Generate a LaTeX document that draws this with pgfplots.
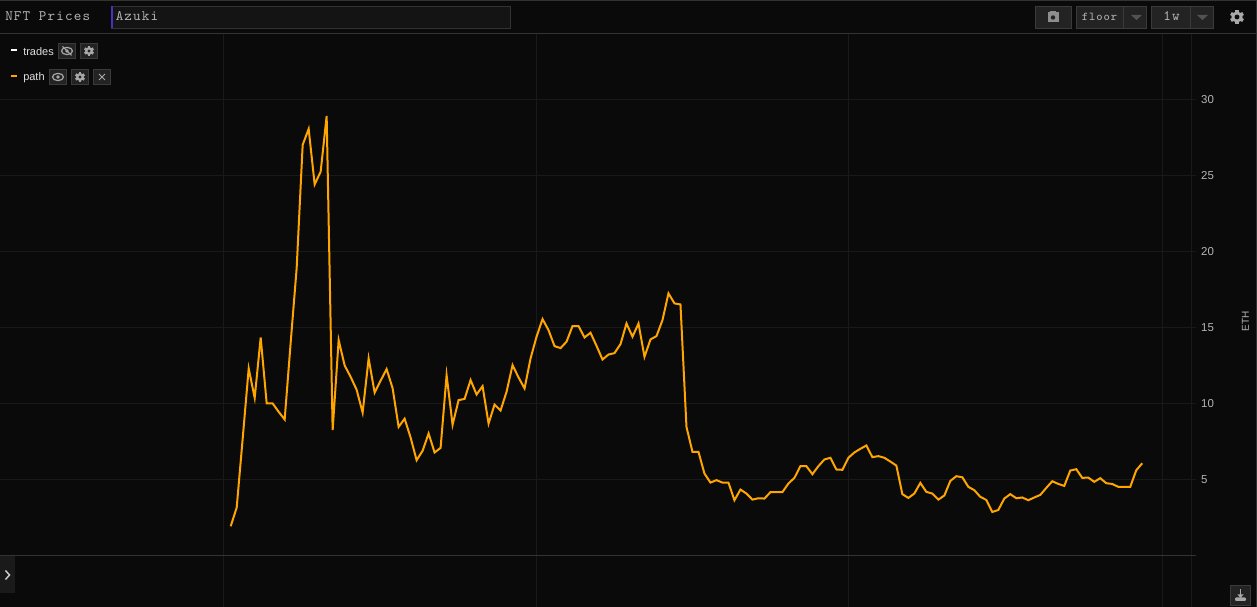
\documentclass[border=0pt]{standalone}
\usepackage{pgfplots}
\pgfplotsset{compat=1.18}
\usepackage{fontspec}
\setmainfont{Liberation Sans}
\setmonofont{Latin Modern Mono}[LetterSpace=8]
\definecolor{bg}{HTML}{0A0A0A}
\definecolor{gridc}{HTML}{191919}
\definecolor{linec}{HTML}{333333}
\definecolor{btn}{HTML}{232323}
\definecolor{btnb}{HTML}{3A3A3A}
\definecolor{field}{HTML}{141414}
\definecolor{tabc}{HTML}{1A1A1A}
\definecolor{txt}{HTML}{B4B4B4}
\definecolor{ico}{HTML}{A8A8A8}
\definecolor{orangec}{HTML}{FFA500}
\definecolor{purp}{HTML}{4B2FBF}
\newcommand{\gear}[4][ico]{% centre x,y, radius
\begin{scope}[shift={(#2,#3)}]
\foreach \a in {0,60,120}{\fill[#1,rotate=\a] (-0.24*#4,-1.0*#4) rectangle (0.24*#4,1.0*#4);}
\fill[#1] (0,0) circle (0.8*#4);
\fill[btn] (0,0) circle (0.33*#4);
\end{scope}}
\newcommand{\ibox}[4]{\fill[btn,draw=btnb,line width=.6pt] (#1,#2) rectangle (#3,#4);}
\newcommand{\eye}[2]{%
\begin{scope}[shift={(#1,#2)}]
\draw[ico,line width=.9pt] (0,0) ellipse (5.5 and 3.6);
\fill[ico] (0,0) circle (1.8);
\end{scope}}
\begin{document}
\begin{tikzpicture}
\useasboundingbox (0,0) rectangle (942.75pt,455.25pt);
\fill[bg] (0,0) rectangle (942.75pt,455.25pt);
\begin{axis}[
  at={(0pt,0pt)},anchor=south west,
  scale only axis,width=893.6pt,height=429.75pt,
  xmin=-38.47,xmax=160.21,ymin=-3.379,ymax=34.29,
  axis line style={draw=none},
  xtick={-1.28,50.96,103.05,155.33,160.21},xticklabels={},
  ytick={5,10,15,20,25,30},
  ytick pos=right,yticklabel pos=right,
  tick align=outside,
  major tick length=3.75pt,
  x tick style={draw=none},
  y tick style={draw=gridc,line width=.75pt},
  grid=major,
  major grid style={draw=gridc,line width=.75pt},
  yticklabel style={text=txt,font=\fontsize{8.6}{10}\selectfont,/pgf/number format/assume math mode=true,anchor=west,xshift=0pt},
  clip=false,
]
\addplot[orangec,line width=1.5pt,no markers] coordinates {
(0,1.93)(1,3.16)(2,7.7)(3,12.3)(4,10.37)(5,14.34)(6,10)(7,10)(8,9.45)(9,8.95)
(10,14)(11,18.9)(12,27.0)(13,28.05)(14,24.4)(15,25.24)(16,28.9)(17,8.25)(18,14.17)(19,12.5)
(20,11.75)(21,10.9)(22,9.4)(23,12.96)(24,10.72)(25,11.5)(26,12.26)(27,11)(28,8.46)(29,9.0)
(30,7.76)(31,6.27)(32,6.89)(33,8.03)(34,6.78)(35,7.08)(36,11.86)(37,8.6)(38,10.22)(39,10.3)
(40,11.54)(41,10.59)(42,11.14)(43,8.68)(44,9.93)(45,9.54)(46,10.77)(47,12.52)(48,11.71)(49,10.99)
(50,12.96)(51,14.39)(52,15.55)(53,14.82)(54,13.77)(55,13.64)(56,14.06)(57,15.09)(58,15.09)(59,14.34)
(60,14.65)(61,13.79)(62,12.89)(63,13.22)(64,13.31)(65,13.9)(66,15.26)(67,14.39)(68,15.26)(69,13.07)
(70,14.21)(71,14.43)(72,15.48)(73,17.24)(74,16.58)(75,16.51)(76,8.46)(77,6.82)(78,6.82)(79,5.39)
(80,4.80)(81,4.96)(82,4.80)(83,4.80)(84,3.64)(85,4.34)(86,4.08)(87,3.68)(88,3.77)(89,3.75)
(90,4.17)(91,4.17)(92,4.17)(93,4.74)(94,5.11)(95,5.88)(96,5.88)(97,5.35)(98,5.88)(99,6.32)
(100,6.43)(101,5.66)(102,5.64)(103,6.43)(104,6.78)(105,7.02)(106,7.24)(107,6.47)(108,6.54)(109,6.43)
(110,6.18)(111,5.92)(112,4.04)(113,3.79)(114,4.08)(115,4.78)(116,4.19)(117,4.08)(118,3.68)(119,3.95)
(120,4.91)(121,5.22)(122,5.15)(123,4.52)(124,4.30)(125,3.86)(126,3.66)(127,2.87)(128,3.0)(129,3.75)
(130,4.04)(131,3.77)(132,3.82)(133,3.64)(134,3.82)(135,3.99)(136,4.45)(137,4.89)(138,4.71)(139,4.58)
(140,5.59)(141,5.68)(142,5.11)(143,5.13)(144,4.85)(145,5.09)(146,4.76)(147,4.71)(148,4.52)(149,4.52)
(150,4.52)(151,5.61)(152,6.07)
};
\end{axis}
\begin{scope}[x=0.75pt,y=-0.75pt,yshift=455.25pt]
% frame lines
\fill[bg] (0,0) rectangle (1257,33.5);
\draw[linec,line width=.75pt] (0,0.5) -- (1257,0.5);
\draw[linec,line width=.75pt] (0,33.5) -- (1257,33.5);
\draw[linec,line width=.75pt] (1256.5,0) -- (1256.5,607);
\draw[linec,line width=.75pt] (0,555.5) -- (1196,555.5);
% title and search
\node[anchor=base west,inner sep=0,text=txt,font=\ttfamily\fontsize{10.8}{12}\selectfont] at (5,21) {NFT Prices};
\fill[field,draw=linec,line width=.6pt] (111.5,6.5) rectangle (510.5,28);
\fill[purp] (111,6) rectangle (113,28.5);
\node[anchor=base west,inner sep=0,text=txt,font=\ttfamily\fontsize{10.8}{12}\selectfont] at (115.5,21) {Azuki};
% toolbar right
\ibox{1035.5}{6.5}{1071.5}{28}
\fill[ico!130!white] (1047.5,12.5) rectangle (1058.5,22.5);
\fill[ico!130!white] (1050,11) rectangle (1056,13);
\fill[btn] (1053,17.5) circle (2.2);
\ibox{1076.5}{6.5}{1146.5}{28}
\draw[btnb,line width=.6pt] (1123.5,6.5) -- (1123.5,28);
\fill[linec!85!white] (1131,15) -- (1142,15) -- (1136.5,20) -- cycle;
\node[anchor=base,inner sep=0,text=txt,font=\ttfamily\fontsize{9}{12}\selectfont] at (1099.5,21) {floor};
\ibox{1151.5}{6.5}{1213.5}{28}
\draw[btnb,line width=.6pt] (1190.5,6.5) -- (1190.5,28);
\fill[linec!85!white] (1197,15) -- (1208,15) -- (1202.5,20) -- cycle;
\node[anchor=base,inner sep=0,text=txt,font=\ttfamily\fontsize{10.8}{12}\selectfont] at (1171.5,21) {1w};
\gear[ico]{1237}{17}{7}
\fill[bg] (1237,17) circle (2.3);
% legend
\fill[white] (11,49.5) rectangle (17,51.5);
\node[anchor=base west,inner sep=0,text=white!88!black,font=\fontsize{8.25}{10}\selectfont] at (23,55.5) {trades};
\ibox{58.5}{43.5}{75.5}{58.5}
\eye{67}{51}
\draw[ico,line width=.8pt] (62.5,46.5) -- (71.5,55.5);
\ibox{80.5}{43.5}{97.5}{58.5}
\gear{89}{51}{5}
\fill[orangec] (11,75.5) rectangle (17,77.5);
\node[anchor=base west,inner sep=0,text=white!88!black,font=\fontsize{8.25}{10}\selectfont] at (23,81) {path};
\ibox{49.5}{69.5}{66.5}{84.5}
\eye{58}{77}
\ibox{71.5}{69.5}{88.5}{84.5}
\gear{80}{77}{5}
\ibox{93.5}{69.5}{110.5}{84.5}
\draw[ico,line width=.6pt] (99,74) -- (105,80) (105,74) -- (99,80);
% left tab
\fill[tabc] (0,556) rectangle (15,593);
\draw[white!80!black,line width=1.1pt] (5.5,570.5) -- (9.5,575) -- (5.5,579.5);
% download button
\ibox{1230.5}{585.5}{1250.5}{605}
\draw[ico,line width=.9pt] (1240.5,589) -- (1240.5,596);
\fill[ico] (1237.5,594.5) -- (1243.5,594.5) -- (1240.5,598) -- cycle;
\fill[ico,rounded corners=.8pt] (1235,597.5) rectangle (1246,601);
% ETH
\node[rotate=90,inner sep=0,text=txt,font=\fontsize{7.5}{9}\selectfont] at (1245.5,321.5) {ETH};
\end{scope}
\end{tikzpicture}
\end{document}
